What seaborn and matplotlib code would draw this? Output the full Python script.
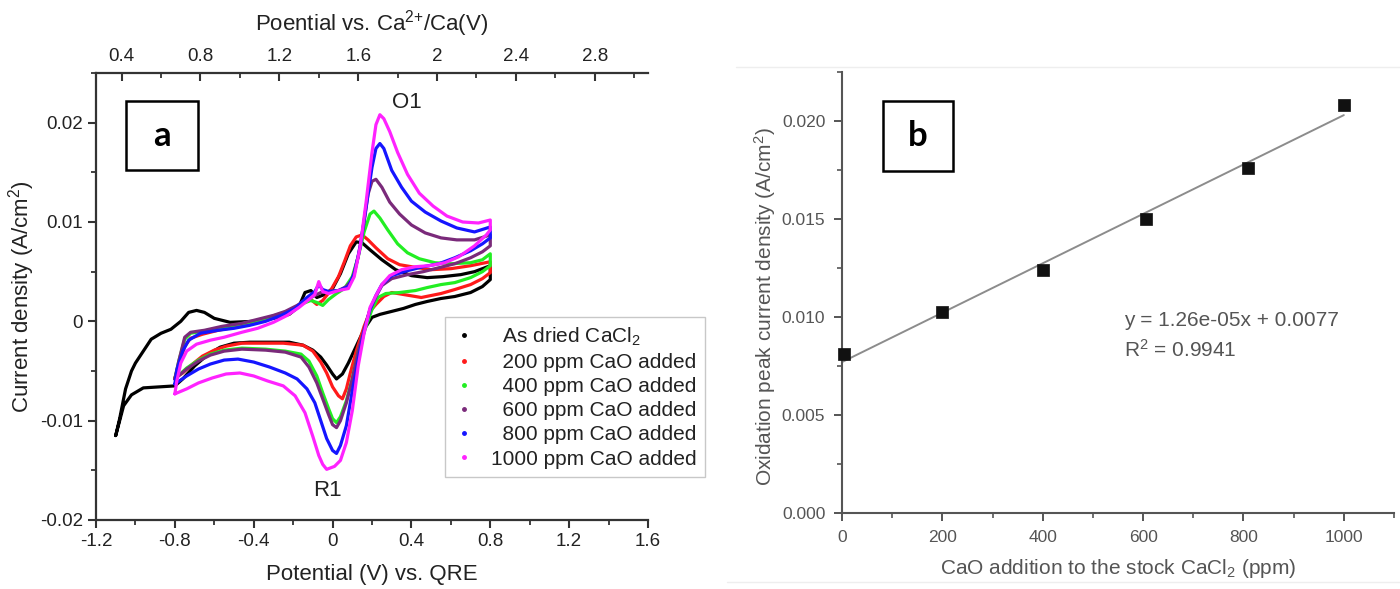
import matplotlib
matplotlib.use("Agg")
import matplotlib.pyplot as plt
from matplotlib.lines import Line2D
from matplotlib.patches import Rectangle
from matplotlib.ticker import MultipleLocator, FuncFormatter, FormatStrFormatter
import seaborn as sns

# ---- panel a: cyclic voltammograms (potential V vs QRE, current density A/cm2)
black_x = [-1.10, -1.08, -1.05, -1.02, -1.00, -0.96, -0.92, -0.87, -0.82, -0.77, -0.73, -0.69, -0.65,
           -0.60, -0.52, -0.40, -0.30, -0.22, -0.17, -0.14, -0.11, -0.08, -0.04, 0.00, 0.04, 0.08,
           0.12, 0.15, 0.19, 0.25, 0.32, 0.40, 0.48, 0.56, 0.65, 0.72, 0.80,
           0.80, 0.76, 0.70, 0.62, 0.55, 0.48, 0.42, 0.36, 0.30, 0.24, 0.20, 0.16, 0.12, 0.08, 0.05,
           0.02, 0.00, -0.03, -0.06, -0.10, -0.15, -0.22, -0.32, -0.42, -0.50, -0.57, -0.63, -0.70,
           -0.76, -0.80, -0.88, -0.96, -1.02, -1.06, -1.10]
black_y = [-0.0115, -0.0098, -0.0068, -0.0050, -0.0042, -0.0030, -0.0018, -0.0012, -0.0008, 0.0000,
           0.0009, 0.0011, 0.0009, 0.0003, -0.0001, 0.0000, 0.0003, 0.0007, 0.0015, 0.0029, 0.0031,
           0.0024, 0.0027, 0.0033, 0.0048, 0.0068, 0.0080, 0.0079, 0.0072, 0.0062, 0.0052, 0.0046,
           0.0044, 0.0045, 0.0047, 0.0050, 0.0056,
           0.0042, 0.0035, 0.0029, 0.0025, 0.0023, 0.0020, 0.0017, 0.0013, 0.0010, 0.0007, 0.0004,
           -0.0008, -0.0025, -0.0042, -0.0053, -0.0058, -0.0053, -0.0044, -0.0036, -0.0029, -0.0024,
           -0.0021, -0.0021, -0.0021, -0.0022, -0.0026, -0.0033, -0.0045, -0.0058, -0.0065, -0.0066,
           -0.0067, -0.0074, -0.0085, -0.0115]

red_x = [-0.80, -0.78, -0.75, -0.72, -0.66, -0.58, -0.50, -0.42, -0.34, -0.26, -0.20, -0.15, -0.11,
         -0.08, -0.05, -0.01, 0.03, 0.06, 0.09, 0.12, 0.15, 0.18, 0.22, 0.28, 0.34, 0.40, 0.50, 0.60,
         0.70, 0.80,
         0.80, 0.76, 0.70, 0.62, 0.55, 0.45, 0.36, 0.30, 0.26, 0.22, 0.19, 0.16, 0.12, 0.09, 0.07,
         0.05, 0.03, 0.00, -0.03, -0.06, -0.10, -0.15, -0.25, -0.35, -0.46, -0.54, -0.60, -0.66,
         -0.71, -0.76, -0.80]
red_y = [-0.0057, -0.0045, -0.0025, -0.0017, -0.0013, -0.0009, -0.0006, -0.0003, 0.0001, 0.0006,
         0.0012, 0.0020, 0.0022, 0.0017, 0.0021, 0.0031, 0.0045, 0.0060, 0.0076, 0.0085, 0.0087,
         0.0082, 0.0074, 0.0063, 0.0057, 0.0055, 0.0052, 0.0053, 0.0056, 0.0060,
         0.0049, 0.0043, 0.0037, 0.0032, 0.0028, 0.0024, 0.0027, 0.0029, 0.0025, 0.0017, 0.0010,
         -0.0005, -0.0030, -0.0052, -0.0068, -0.0078, -0.0075, -0.0066, -0.0052, -0.0041, -0.0030,
         -0.0024, -0.0022, -0.0022, -0.0022, -0.0025, -0.0029, -0.0035, -0.0043, -0.0052, -0.0057]

green_x = [-0.80, -0.78, -0.75, -0.72, -0.66, -0.58, -0.50, -0.42, -0.34, -0.26, -0.20, -0.15, -0.11,
           -0.08, -0.05, -0.02, 0.02, 0.06, 0.10, 0.13, 0.16, 0.19, 0.21, 0.24, 0.28, 0.33, 0.38,
           0.44, 0.52, 0.60, 0.70, 0.76, 0.80,
           0.80, 0.76, 0.70, 0.62, 0.55, 0.48, 0.42, 0.34, 0.27, 0.23, 0.20, 0.17, 0.13, 0.10, 0.07,
           0.04, 0.02, 0.00, -0.02, -0.05, -0.08, -0.12, -0.16, -0.24, -0.34, -0.46, -0.55, -0.62,
           -0.68, -0.74, -0.80]
green_y = [-0.0058, -0.0040, -0.0018, -0.0012, -0.0010, -0.0007, -0.0004, -0.0001, 0.0003, 0.0008,
           0.0012, 0.0018, 0.0021, 0.0019, 0.0016, 0.0022, 0.0028, 0.0033, 0.0045, 0.0065, 0.0090,
           0.0108, 0.0111, 0.0104, 0.0092, 0.0078, 0.0069, 0.0063, 0.0059, 0.0058, 0.0059, 0.0062,
           0.0068,
           0.0056, 0.0050, 0.0044, 0.0039, 0.0037, 0.0034, 0.0031, 0.0029, 0.0028, 0.0024, 0.0012,
           -0.0005, -0.0030, -0.0058, -0.0080, -0.0096, -0.0102, -0.0098, -0.0088, -0.0072, -0.0055,
           -0.0040, -0.0033, -0.0030, -0.0028, -0.0027, -0.0029, -0.0033, -0.0039, -0.0047, -0.0058]

purple_x = [-0.80, -0.78, -0.75, -0.72, -0.65, -0.56, -0.46, -0.38, -0.30, -0.24, -0.18, -0.13, -0.09,
            -0.06, -0.02, 0.03, 0.07, 0.10, 0.13, 0.16, 0.18, 0.20, 0.22, 0.25, 0.29, 0.34, 0.40,
            0.47, 0.55, 0.63, 0.72, 0.80,
            0.80, 0.76, 0.70, 0.62, 0.54, 0.46, 0.38, 0.30, 0.25, 0.22, 0.19, 0.16, 0.13, 0.10, 0.07,
            0.04, 0.02, 0.00, -0.02, -0.05, -0.08, -0.12, -0.16, -0.24, -0.34, -0.46, -0.55, -0.62,
            -0.68, -0.74, -0.80]
purple_y = [-0.0058, -0.0040, -0.0016, -0.0011, -0.0009, -0.0005, -0.0002, 0.0002, 0.0006, 0.0010,
            0.0016, 0.0022, 0.0026, 0.0029, 0.0030, 0.0031, 0.0035, 0.0042, 0.0065, 0.0100, 0.0128,
            0.0141, 0.0143, 0.0135, 0.0120, 0.0108, 0.0097, 0.0089, 0.0084, 0.0082, 0.0082, 0.0087,
            0.0076, 0.0070, 0.0064, 0.0058, 0.0054, 0.0050, 0.0047, 0.0043, 0.0036, 0.0025, 0.0012,
            -0.0008, -0.0030, -0.0058, -0.0082, -0.0100, -0.0107, -0.0104, -0.0094, -0.0078, -0.0062,
            -0.0046, -0.0036, -0.0031, -0.0029, -0.0028, -0.0030, -0.0034, -0.0040, -0.0048, -0.0058]

blue_x = [-0.80, -0.79, -0.76, -0.73, -0.67, -0.58, -0.50, -0.42, -0.34, -0.26, -0.19, -0.13, -0.09,
          -0.07, -0.05, -0.02, 0.03, 0.08, 0.11, 0.14, 0.17, 0.20, 0.22, 0.24, 0.26, 0.30, 0.35, 0.40,
          0.47, 0.55, 0.63, 0.72, 0.80,
          0.80, 0.76, 0.70, 0.62, 0.54, 0.46, 0.38, 0.30, 0.25, 0.22, 0.19, 0.16, 0.13, 0.10, 0.07,
          0.04, 0.02, 0.00, -0.03, -0.06, -0.09, -0.13, -0.18, -0.24, -0.32, -0.40, -0.48, -0.55,
          -0.62, -0.68, -0.74, -0.80]
blue_y = [-0.0063, -0.0049, -0.0030, -0.0019, -0.0012, -0.0009, -0.0007, -0.0004, 0.0000, 0.0006,
          0.0013, 0.0024, 0.0030, 0.0037, 0.0032, 0.0030, 0.0031, 0.0035, 0.0048, 0.0075, 0.0115,
          0.0155, 0.0174, 0.0179, 0.0174, 0.0152, 0.0135, 0.0121, 0.0110, 0.0101, 0.0094, 0.0090,
          0.0095,
          0.0084, 0.0078, 0.0071, 0.0064, 0.0058, 0.0055, 0.0051, 0.0046, 0.0037, 0.0026, 0.0012,
          -0.0010, -0.0038, -0.0070, -0.0105, -0.0125, -0.0133, -0.0130, -0.0118, -0.0100, -0.0082,
          -0.0068, -0.0058, -0.0052, -0.0046, -0.0041, -0.0038, -0.0039, -0.0043, -0.0048, -0.0055,
          -0.0063]

magenta_x = [-0.80, -0.79, -0.77, -0.74, -0.69, -0.62, -0.55, -0.46, -0.38, -0.30, -0.23, -0.17,
             -0.12, -0.09, -0.07, -0.05, -0.02, 0.03, 0.08, 0.11, 0.14, 0.17, 0.20, 0.22, 0.24, 0.26,
             0.29, 0.33, 0.38, 0.44, 0.51, 0.58, 0.66, 0.74, 0.80,
             0.80, 0.78, 0.72, 0.64, 0.57, 0.49, 0.42, 0.35, 0.29, 0.25, 0.22, 0.19, 0.16, 0.13, 0.10,
             0.07, 0.04, 0.01, -0.03, -0.05, -0.07, -0.10, -0.14, -0.19, -0.25, -0.33, -0.40, -0.47,
             -0.54, -0.61, -0.68, -0.74, -0.80]
magenta_y = [-0.0073, -0.0060, -0.0042, -0.0030, -0.0023, -0.0019, -0.0016, -0.0011, -0.0007,
             -0.0001, 0.0006, 0.0014, 0.0022, 0.0027, 0.0040, 0.0030, 0.0028, 0.0031, 0.0033, 0.0045,
             0.0075, 0.0120, 0.0170, 0.0198, 0.0208, 0.0204, 0.0191, 0.0170, 0.0148, 0.0129, 0.0116,
             0.0106, 0.0100, 0.0099, 0.0102,
             0.0092, 0.0087, 0.0076, 0.0065, 0.0059, 0.0056, 0.0055, 0.0052, 0.0046, 0.0037, 0.0026,
             0.0014, -0.0012, -0.0045, -0.0090, -0.0122, -0.0140, -0.0146, -0.0149, -0.0144, -0.0135,
             -0.0116, -0.0092, -0.0075, -0.0065, -0.0060, -0.0055, -0.0052, -0.0053, -0.0057, -0.0062,
             -0.0068, -0.0073]

cv_labels = ["As dried CaCl$_2$", "200 ppm CaO added", "400 ppm CaO added",
             "600 ppm CaO added", "800 ppm CaO added", "1000 ppm CaO added"]
cv_colors = ["#000000", "#ff1a1a", "#22ee22", "#7a2a7a", "#1515ff", "#ff22ff"]
top_offset = 1.47  # Ca2+/Ca scale = QRE scale + offset

# ---- panel b: oxidation peak vs CaO addition
cao_ppm = [4, 200, 400, 605, 810, 1000]
peak_j = [0.0081, 0.01025, 0.0124, 0.0150, 0.0176, 0.0208]
fit_slope = 1.26e-05
fit_icpt = 0.0077
fit_x = [0, 1000]

W, H = 1400, 589


def fx(px):
    return px / W


def fy(py):
    return 1 - py / H


sns.set_theme(style="ticks")
plt.rcParams["font.family"] = ["Liberation Sans", "DejaVu Sans"]
plt.rcParams["mathtext.default"] = "regular"
plt.rcParams["axes.unicode_minus"] = False

fig = plt.figure(figsize=(14, 5.89), dpi=100)
ax1 = fig.add_axes([fx(96), fy(520), fx(648 - 96), (520 - 73) / H])
ax2 = fig.add_axes([fx(842), fy(513), fx(1394 - 842), (513 - 72) / H])

# ---------------- panel a
curves = [(black_x, black_y), (red_x, red_y), (green_x, green_y),
          (purple_x, purple_y), (blue_x, blue_y), (magenta_x, magenta_y)]
for (cx, cy), c in zip(curves, cv_colors):
    sns.lineplot(x=cx, y=cy, sort=False, estimator=None, color=c, lw=2.3, ax=ax1)

gfmt = FuncFormatter(lambda v, p: f"{round(v, 6) + 0.0:g}")
ax1.set_xlim(-1.2, 1.6)
ax1.set_ylim(-0.02, 0.025)
ax1.xaxis.set_major_locator(MultipleLocator(0.4))
ax1.xaxis.set_minor_locator(MultipleLocator(0.2))
ax1.yaxis.set_major_locator(MultipleLocator(0.01))
ax1.yaxis.set_minor_locator(MultipleLocator(0.005))
ax1.xaxis.set_major_formatter(gfmt)
ax1.yaxis.set_major_formatter(gfmt)
for s in ["top", "right"]:
    ax1.spines[s].set_visible(False)
for s in ["left", "bottom"]:
    ax1.spines[s].set_linewidth(1.6)
    ax1.spines[s].set_color("#333333")
ax1.tick_params(which="major", direction="out", length=6, width=1.5, color="#333333",
                labelsize=13.5, labelcolor="#222222")
ax1.tick_params(which="minor", direction="out", length=3.5, width=1.3, color="#333333")
ax1.set_xlabel("Potential (V) vs. QRE", fontsize=16, color="#222222", labelpad=10)
ax1.set_ylabel("Current density (A/cm$^2$)", fontsize=16, color="#222222")
ax1.yaxis.label.set_va("center")
ax1.yaxis.set_label_coords(-0.134, 0.5)

sec = ax1.secondary_xaxis("top", functions=(lambda v: v + top_offset, lambda v: v - top_offset))
sec.xaxis.set_major_locator(MultipleLocator(0.4))
sec.xaxis.set_minor_locator(MultipleLocator(0.2))
sec.xaxis.set_major_formatter(gfmt)
sec.spines["top"].set_linewidth(1.6)
sec.spines["top"].set_color("#333333")
sec.tick_params(which="major", direction="in", length=6, width=1.5, color="#333333",
                labelsize=13.5, labelcolor="#222222", pad=6)
sec.tick_params(which="minor", direction="in", length=3.5, width=1.3, color="#333333")
sec.set_xlabel("Poential vs. Ca$^{2{+}}$/Ca(V)", fontsize=16, color="#222222", labelpad=12)

handles = [Line2D([], [], ls="none", marker="o", ms=2.5, color=c) for c in cv_colors]
leg_labels = ["  " + l if not l.startswith("1000") else l for l in cv_labels]
leg = ax1.legend(handles, leg_labels, loc="upper left", bbox_to_anchor=(fx(445), fy(317)),
                 bbox_transform=fig.transFigure, borderaxespad=0, frameon=True, fancybox=False,
                 edgecolor="#bbbbbb", fontsize=15, handlelength=1.0, handletextpad=0.8,
                 borderpad=0.4, labelspacing=0.25)
leg.get_frame().set_linewidth(1.0)
for t in leg.get_texts():
    t.set_color("#222222")

fig.text(fx(407), fy(102), "O1", fontsize=16, ha="center", va="center", color="#222222")
fig.text(fx(327), fy(490), "R1", fontsize=16, ha="center", va="center", color="#222222")

# ---------------- panel b
sns.lineplot(x=fit_x, y=[fit_slope * v + fit_icpt for v in fit_x], color="#8c8c8c", lw=1.4, ax=ax2)
sns.scatterplot(x=cao_ppm, y=peak_j, marker="s", s=70, color="#111111", edgecolor="#111111",
                linewidth=0.5, ax=ax2, zorder=3, clip_on=False)
ax2.set_xlim(0, 1100)
ax2.set_ylim(0, 0.0225)
ax2.xaxis.set_major_locator(MultipleLocator(200))
ax2.xaxis.set_minor_locator(MultipleLocator(100))
ax2.yaxis.set_major_locator(MultipleLocator(0.005))
ax2.yaxis.set_minor_locator(MultipleLocator(0.0025))
ax2.yaxis.set_major_formatter(FormatStrFormatter("%.3f"))
for s in ["top", "right"]:
    ax2.spines[s].set_visible(False)
for s in ["left", "bottom"]:
    ax2.spines[s].set_linewidth(1.5)
    ax2.spines[s].set_color("#555555")
ax2.tick_params(which="major", direction="out", length=6, width=1.4, color="#555555",
                labelsize=12.5, labelcolor="#555555", pad=6)
ax2.tick_params(which="minor", direction="out", length=3.5, width=1.2, color="#555555")
ax2.set_xlabel("CaO addition to the stock CaCl$_2$ (ppm)", fontsize=15, color="#555555",
               labelpad=9)
ax2.set_ylabel("Oxidation peak current density (A/cm$^2$)", fontsize=15, color="#555555")
ax2.yaxis.label.set_va("center")
ax2.yaxis.set_label_coords(-0.139, 0.469)

fig.text(fx(1124), fy(320), "y = 1.26e-05x + 0.0077", fontsize=15, ha="left", va="center",
         color="#555555")
fig.text(fx(1124), fy(350), "R$^2$ = 0.9941", fontsize=15, ha="left", va="center",
         color="#555555")

# ---------------- panel tags
for (x0, y0, x1, y1, tag) in [(126, 101, 198, 170, "a"), (883, 101, 953, 171, "b")]:
    fig.add_artist(Rectangle((fx(x0), fy(y1)), fx(x1 - x0), (y1 - y0) / H, transform=fig.transFigure,
                             fill=False, edgecolor="black", lw=1.8))
    fig.text(fx((x0 + x1) / 2), fy((y0 + y1) / 2), tag, fontsize=25, fontweight="bold",
             family=["Lato", "DejaVu Sans"], ha="center", va="center", color="black")

# faint screenshot border around panel b
fig.add_artist(Line2D([fx(736), 1], [fy(67), fy(67)], transform=fig.transFigure,
                      color="#eeeeee", lw=1))
fig.add_artist(Line2D([fx(727), 1], [fy(582), fy(582)], transform=fig.transFigure,
                      color="#eeeeee", lw=1))

fig.savefig("out.png", dpi=100)
